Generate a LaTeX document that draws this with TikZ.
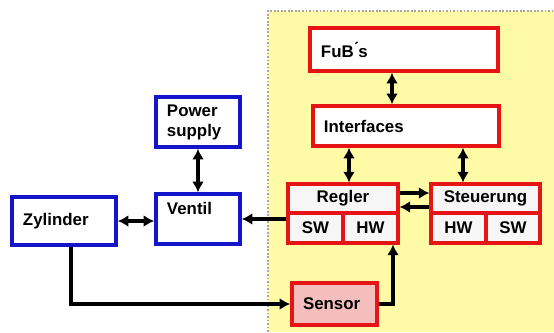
\documentclass[tikz,border=0pt]{standalone}
\usepackage{fontspec}
\setmainfont{Liberation Sans}
\usepackage{xcolor}
\usepackage{tikz}
\usetikzlibrary{arrows.meta, positioning, calc}
\definecolor{notered}{RGB}{230, 20, 20}
\definecolor{noteblue}{RGB}{20, 20, 200}
\definecolor{noteyellow}{RGB}{255, 250, 165}
\definecolor{notepink}{RGB}{245, 190, 190}
\definecolor{notecell}{RGB}{246, 246, 246}

\begin{document}
\begin{tikzpicture}[x=0.03cm, y=-0.03cm,
        every node/.style={font=\bfseries\fontsize{14.4}{17}\selectfont},
        bluebox/.style={draw=noteblue, line width=3pt, fill=white, inner xsep=0.33cm, inner ysep=0pt, align=left},
        redbox/.style={draw=notered, line width=3pt, fill=white, inner xsep=0.33cm, inner ysep=0pt, align=left},
        cell/.style={draw=notered, line width=2.6pt, fill=notecell, inner sep=0pt, align=center},
        arr/.style={-{Latex[length=0.32cm, width=0.36cm]}, line width=2.8pt},
        dbl/.style={{Latex[length=0.32cm, width=0.36cm]}-{Latex[length=0.32cm, width=0.36cm]}, line width=2.8pt}]
        \useasboundingbox (0,0) rectangle (554,332);

        % Yellow field (software side)
        \fill[noteyellow] (268,11) rectangle (554,332);
        \draw[gray!70, line width=1pt, dash pattern=on 1.5pt off 1.5pt] (268,332) -- (268,11) -- (554,11);

        % Blue blocks
        \node[bluebox, text width=2.46cm, minimum width=3.06cm, minimum height=1.44cm] (zyl) at (64,221) {Zylinder};
        \node[bluebox, text width=1.86cm, minimum width=2.52cm, minimum height=1.5cm, text depth=0.65cm] (ventil) at (198,219) {Ventil};
        \node[bluebox, text width=1.86cm, minimum width=2.52cm, minimum height=1.5cm] (power) at (198,122) {Power\\supply};

        % Red blocks
        \node[redbox, text width=4.98cm, minimum width=5.64cm, minimum height=1.29cm] (fubs) at (404,49.5) {FuB\'{}s};
        \node[redbox, text width=4.92cm, minimum width=5.58cm, minimum height=1.2cm] (interf) at (406,126) {Interfaces};
        \node[redbox, fill=notepink, text width=1.89cm, minimum width=2.55cm, minimum height=1.26cm] (sensor) at (334.5,304) {Sensor};

        % Regler
        \node[cell, minimum width=3.3cm, minimum height=0.87cm] (regler) at (343,198.5) {Regler};
        \node[cell, minimum width=1.65cm, minimum height=0.9cm] (regsw) at (315.5,228) {SW};
        \node[cell, minimum width=1.65cm, minimum height=0.9cm] (reghw) at (370.5,228) {HW};

        % Steuerung
        \node[cell, minimum width=3.27cm, minimum height=0.87cm] (steuer) at (485.5,198.5) {Steuerung};
        \node[cell, minimum width=1.65cm, minimum height=0.9cm] (sthw) at (458.5,228) {HW};
        \node[cell, minimum width=1.62cm, minimum height=0.9cm] (stsw) at (513,228) {SW};

        % Arrows
        \coordinate (f1) at ($(fubs.south)+(-12,0)$);
        \coordinate (r1) at ($(regler.north)+(6,0)$);
        \coordinate (s1) at ($(steuer.north)+(-22.5,0)$);
        \coordinate (h1) at ($(reghw.south)+(22.5,0)$);
        \coordinate (rs) at ($(regler.east)+(0,-5.5)$);
        \coordinate (sr) at ($(steuer.west)+(0,8.5)$);
        \draw[dbl] (f1) -- (f1 |- interf.north);
        \draw[dbl] (r1 |- interf.south) -- (r1);
        \draw[dbl] (s1 |- interf.south) -- (s1);
        \draw[arr] (rs) -- (rs -| steuer.west);
        \draw[arr] (sr) -- (sr -| regler.east);
        \draw[arr] (sensor.east) -| (h1);
        \draw[arr] (ventil.east -| regsw.west) -- (ventil.east);
        \draw[dbl] (zyl.east) -- (zyl.east -| ventil.west);
        \draw[dbl] (power.south) -- (ventil.north);
        \draw[arr] ($(zyl.south)+(7,0)$) |- (sensor.west);
    \end{tikzpicture}
\end{document}
